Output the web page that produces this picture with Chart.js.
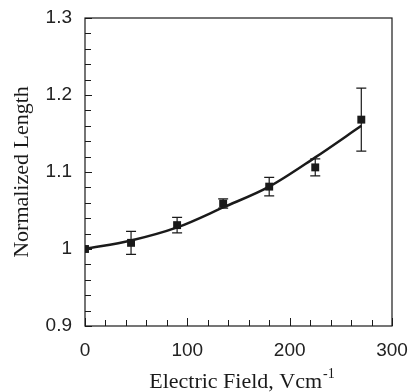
<!DOCTYPE html>
<html>
<head>
<meta charset="utf-8">
<script src="https://cdn.jsdelivr.net/npm/chart.js@4.4.1/dist/chart.umd.min.js"></script>
<style>
  body { margin: 0; background: #fff; }
  #wrap { width: 412px; height: 392px; }
</style>
</head>
<body>
<div id="wrap"><canvas id="fieldChart" width="412" height="392"></canvas></div>
<script>
// measured points (electric field in V/cm, normalized length)
const fieldValues = [0, 45, 90, 135, 180, 225, 270];
const lengthValues = [1.000, 1.008, 1.031, 1.059, 1.081, 1.106, 1.168];
const lengthErrors = [0, 0.015, 0.010, 0.006, 0.012, 0.011, 0.041];

// fitted curve
const fitField = [0, 45, 90, 135, 180, 225, 270];
const fitLength = [1.000, 1.011, 1.028, 1.054, 1.081, 1.119, 1.160];

const xTickLabels = [0, 100, 200, 300];
const yTickLabels = [0.9, 1.0, 1.1, 1.2, 1.3];

const xTitle = "Electric Field, Vcm";
const xTitleSup = "-1";
const yTitle = "Normalized Length";

const ink = "#1a1a1a";
const serif = "'Liberation Serif', 'Times New Roman', serif";

// error bars, inward ticks, frame and axis titles
const decorPlugin = {
    id: "decor",
    afterDatasetsDraw(chart) {
        const ctx = chart.ctx;
        const xs = chart.scales.x;
        const ys = chart.scales.y;

        ctx.save();
        ctx.strokeStyle = ink;
        ctx.lineWidth = 1.2;
        fieldValues.forEach(function (fx, i) {
            const err = lengthErrors[i];
            if (!err) return;
            const px = xs.getPixelForValue(fx);
            const top = ys.getPixelForValue(lengthValues[i] + err);
            const bot = ys.getPixelForValue(lengthValues[i] - err);
            ctx.beginPath();
            ctx.moveTo(px, top); ctx.lineTo(px, bot);
            ctx.moveTo(px - 5, top); ctx.lineTo(px + 5, top);
            ctx.moveTo(px - 5, bot); ctx.lineTo(px + 5, bot);
            ctx.stroke();
        });
        ctx.restore();
    },
    afterDraw(chart) {
        const ctx = chart.ctx;
        const xs = chart.scales.x;
        const ys = chart.scales.y;
        const area = chart.chartArea;

        ctx.save();
        ctx.strokeStyle = ink;
        ctx.lineWidth = 1;
        ctx.beginPath();
        xs.ticks.forEach(function (t) {
            const px = Math.round(xs.getPixelForValue(t.value)) + 0.5;
            const len = t.value % 100 === 0 ? 8 : 6;
            ctx.moveTo(px, area.bottom);
            ctx.lineTo(px, area.bottom - len);
        });
        ys.ticks.forEach(function (t) {
            const py = Math.round(ys.getPixelForValue(t.value)) + 0.5;
            const major = Math.round(t.value * 100) % 10 === 0;
            ctx.moveTo(area.left, py);
            ctx.lineTo(area.left + (major ? 7 : 6), py);
        });
        ctx.stroke();

        ctx.lineWidth = 1.2;
        ctx.strokeRect(area.left, area.top, area.right - area.left, area.bottom - area.top);

        // axis titles
        ctx.fillStyle = ink;
        ctx.textBaseline = "alphabetic";
        ctx.font = "22px " + serif;
        const mainW = ctx.measureText(xTitle).width;
        ctx.font = "14px " + serif;
        const supW = ctx.measureText(xTitleSup).width;
        const cx = (area.left + area.right) / 2 + 3;
        const startX = cx - (mainW + supW) / 2;
        ctx.font = "22px " + serif;
        ctx.textAlign = "left";
        ctx.fillText(xTitle, startX, 388);
        ctx.font = "14px " + serif;
        ctx.fillText(xTitleSup, startX + mainW + 1, 378);

        ctx.translate(28, 172);
        ctx.rotate(-Math.PI / 2);
        ctx.textAlign = "center";
        ctx.font = "22px " + serif;
        ctx.fillText(yTitle, 0, 0);
        ctx.restore();
    }
};

new Chart(document.getElementById("fieldChart").getContext("2d"), {
    type: "scatter",
    data: {
        datasets: [{
            label: "fit",
            data: fitField.map(function (x, i) { return { x: x, y: fitLength[i] }; }),
            showLine: true,
            borderColor: ink,
            borderWidth: 2.5,
            pointRadius: 0,
            cubicInterpolationMode: "monotone",
            fill: false
        }, {
            label: "measured",
            data: fieldValues.map(function (x, i) { return { x: x, y: lengthValues[i] }; }),
            showLine: false,
            pointStyle: "rect",
            pointRadius: 5.6,
            backgroundColor: ink,
            borderColor: ink,
            borderWidth: 0
        }]
    },
    options: {
        responsive: false,
        animation: false,
        layout: { padding: { left: 0, right: 20, top: 18, bottom: 0 } },
        plugins: {
            legend: { display: false },
            tooltip: { enabled: false }
        },
        scales: {
            x: {
                type: "linear",
                min: 0,
                max: 300,
                border: { display: false },
                grid: { display: false, drawTicks: false },
                ticks: {
                    stepSize: 20,
                    autoSkip: false,
                    maxRotation: 0,
                    padding: 13,
                    color: "#222",
                    font: { family: "'Liberation Sans', Arial, sans-serif", size: 19 },
                    callback: function (v) {
                        return xTickLabels.indexOf(v) >= 0 ? String(v) : "";
                    }
                },
                afterFit: function (s) {
                    s.height = 66;
                    s.paddingLeft = 0;
                    s.paddingRight = 0;
                }
            },
            y: {
                type: "linear",
                min: 0.9,
                max: 1.3,
                border: { display: false },
                grid: { display: false, drawTicks: false },
                ticks: {
                    stepSize: 0.02,
                    autoSkip: false,
                    padding: 13,
                    color: "#222",
                    font: { family: "'Liberation Sans', Arial, sans-serif", size: 19 },
                    callback: function (v) {
                        const r = Math.round(v * 100) / 100;
                        const hit = yTickLabels.some(function (t) { return Math.abs(t - r) < 1e-9; });
                        return hit ? (Math.abs(r - 1) < 1e-9 ? "1" : r.toFixed(1)) : "";
                    }
                },
                afterFit: function (s) {
                    s.width = 85;
                    s.paddingTop = 0;
                    s.paddingBottom = 0;
                }
            }
        }
    },
    plugins: [decorPlugin]
});
</script>
</body>
</html>
